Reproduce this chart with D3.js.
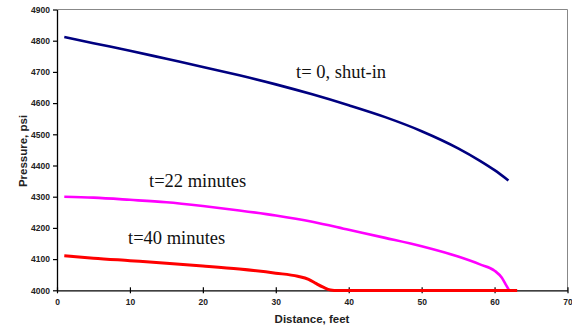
<!DOCTYPE html>
<html><head><meta charset="utf-8">
<script src="https://cdn.jsdelivr.net/npm/d3@7"></script>
<style>body{margin:0;background:#fff}svg{display:block}</style>
</head><body><svg id="c" width="572" height="331"></svg>
<script>
const xTicks = [0,10,20,30,40,50,60,70];
const yTicks = [4000,4100,4200,4300,4400,4500,4600,4700,4800,4900];
const shutInX = [1,5,10,15,20,25,30,35,40,45,50,55,58,60,61.9];
const shutInP = [4812,4792,4768,4742,4716,4689,4660,4628,4593,4555,4510,4455,4415,4385,4352];
const t22X = [1,5,10,15,20,25,30,35,40,45,50,55,58,60,61,61.5,62];
const t22P = [4300,4297,4290,4282,4270,4256,4240,4220,4194,4168,4141,4108,4083,4063,4040,4020,4000];
const t40X = [1,5,10,15,20,25,30,33,34.5,35.5,36.5,37.5,38.5,40,50,60,63.1];
const t40P = [4111,4103,4095,4087,4078,4068,4055,4045,4035,4022,4010,4001,3999,3999,3999,3999,3999];
const labels = ["t= 0, shut-in","t=22 minutes","t=40 minutes"];
const colors = ["#000080","#FF00FF","#FF0000"];

const svg = d3.select("#c");
const L=57, R=567.5, T=9.5, B=290.3;
const x = d3.scaleLinear().domain([0,70]).range([L,R]);
const y = d3.scaleLinear().domain([4000,4900]).range([B,T]);
const font = "Liberation Sans, Arial, sans-serif";

// plot border (top/right)
svg.append("path").attr("d",`M${L},${T}H${R}V${B}`).attr("fill","none").attr("stroke","#888").attr("stroke-width",1);

// y axis
const ya = svg.append("g").attr("transform",`translate(${L},0)`)
  .call(d3.axisLeft(y).tickValues(yTicks).tickFormat(d3.format("d")).tickSize(4).tickSizeOuter(0).tickPadding(3));
ya.select(".domain").attr("stroke","#000").attr("stroke-width",1.3);
ya.selectAll(".tick line").attr("stroke","#000").attr("stroke-width",1.2);
ya.selectAll("text").attr("font-family",font).attr("font-size",8.5).attr("font-weight","bold").attr("fill","#222");

// x axis
const xa = svg.append("g").attr("transform",`translate(0,${B})`)
  .call(d3.axisBottom(x).tickValues(xTicks).tickFormat(d3.format("d")).tickSize(3).tickSizeOuter(0).tickPadding(6));
xa.select(".domain").attr("stroke","#000").attr("stroke-width",1.3);
xa.selectAll(".tick line").attr("y1",-3).attr("stroke","#000").attr("stroke-width",1.2);
xa.selectAll("text").attr("font-family",font).attr("font-size",8.5).attr("font-weight","bold").attr("fill","#222");

// series
const series = [[shutInX,shutInP],[t22X,t22P],[t40X,t40P]];
const line = d3.line().x(d=>x(d[0])).y(d=>y(d[1])).curve(d3.curveMonotoneX);
series.forEach((s,i)=>{
  const pts = s[0].map((v,j)=>[v,s[1][j]]);
  svg.append("path").attr("d",line(pts)).attr("fill","none")
    .attr("stroke",colors[i]).attr("stroke-width", i==2?3:2.6).attr("stroke-linejoin","round");
});

// axis titles
svg.append("text").attr("x",312).attr("y",323).attr("text-anchor","middle")
  .attr("font-family",font).attr("font-size",11.5).attr("font-weight","bold").attr("fill","#222").text("Distance, feet");
svg.append("text").attr("transform","translate(27,151) rotate(-90)").attr("text-anchor","middle")
  .attr("font-family",font).attr("font-size",11.5).attr("font-weight","bold").attr("fill","#222").text("Pressure, psi");

// annotations
const annPos = [[296,78],[149,187],[128,244]];
labels.forEach((t,i)=>{
  svg.append("text").attr("x",annPos[i][0]).attr("y",annPos[i][1])
    .attr("font-family","Liberation Serif, Times New Roman, serif").attr("font-size",18.5).attr("fill","#111").text(t);
});
</script></body></html>
